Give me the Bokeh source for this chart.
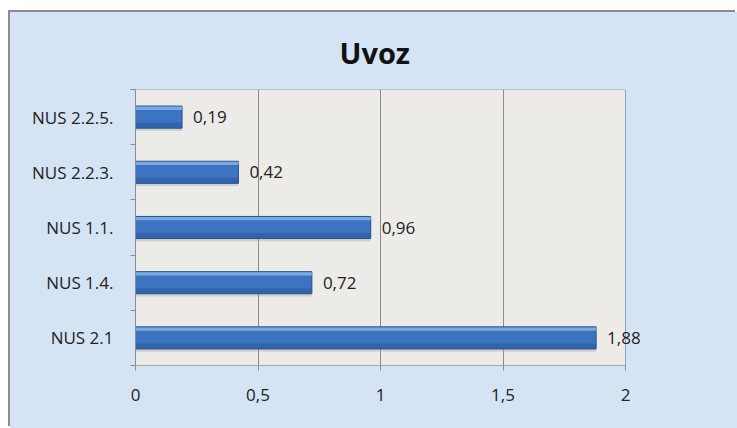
from bokeh.plotting import figure
from bokeh.models import FixedTicker, ColumnDataSource, Range1d, LabelSet
from bokeh.core.properties import value
from bokeh.embed import file_html
from bokeh.resources import INLINE

# ---- data (bottom to top, as drawn) ----
categories = ["NUS 2.1", "NUS 1.4.", "NUS 1.1.", "NUS 2.2.3.", "NUS 2.2.5."]
values = [1.88, 0.72, 0.96, 0.42, 0.19]
value_labels = ["1,88", "0,72", "0,96", "0,42", "0,19"]
x_ticks = [0, 0.5, 1, 1.5, 2]
x_tick_labels = ["0", "0,5", "1", "1,5", "2"]
title_text = "Uvoz"

FONT = "Open Sans"
BG = "#d5e4f4"
X_MAX = 2.0          # end of the value axis
X_VIEW = 2.302       # extra room on the right so the last data label is not clipped

pos = [i + 0.5 for i in range(len(categories))]
src = ColumnDataSource(dict(
    y=pos,
    y_shadow=[p - 0.05 for p in pos],
    y_hi=[p + 0.16 for p in pos],
    y_lo=[p - 0.15 for p in pos],
    x=values,
    lab=value_labels,
))

p = figure(width=727, height=416, output_backend="svg", toolbar_location=None,
           x_range=Range1d(0, X_VIEW), y_range=Range1d(0, len(categories)),
           min_border_left=125, min_border_right=38,
           min_border_top=76, min_border_bottom=63)
p.margin = (12, 0, 0, 10)
p.styles = {"box-shadow": "-2px -2px 0 0 #8c8c8c", "background-color": BG}

p.border_fill_alpha = 0
p.background_fill_alpha = 0
p.outline_line_color = None

# title
p.title.text = title_text
p.title.align = "left"
p.title.text_font = FONT
p.title.text_font_style = "bold"
p.title.text_font_size = "29px"
p.title.text_color = "#111111"
p.title.standoff = 36
p.title.offset = 204

# plot area (grey) with its blue-grey border
p.quad(left=0, right=X_MAX, bottom=0, top=len(categories),
       fill_color="#ecebe8", line_color="#8aa1c0", line_width=1, level="underlay")

# grid
p.xgrid.ticker = FixedTicker(ticks=[0.5, 1, 1.5])
p.xgrid.grid_line_color = "#8c8c8c"
p.xgrid.grid_line_width = 1
p.ygrid.grid_line_color = None

# shadow
p.hbar(y="y_shadow", left=0, right="x", height=0.4, source=src,
       fill_color="#9a9a9a", fill_alpha=0.35, line_color=None)
# main bar
p.hbar(y="y", left=0, right="x", height=0.4, source=src,
       fill_color="#3d74c2", line_color="#24508e", line_width=1)
# lower darker band
p.hbar(y="y_lo", left=0, right="x", height=0.1, source=src,
       fill_color="#2a5a9e", fill_alpha=0.6, line_color=None)
# upper highlight band
p.hbar(y="y_hi", left=0, right="x", height=0.06, source=src,
       fill_color="#8ab6ea", fill_alpha=0.8, line_color=None)

# value labels
labels = LabelSet(x="x", y="y", text="lab", source=src, x_offset=11,
                  text_font=value(FONT), text_font_size=value("17px"),
                  text_color=value("#222222"),
                  text_baseline="middle", text_align="left")
p.add_layout(labels)

# x axis
p.xaxis.bounds = (0, X_MAX)
p.xaxis.ticker = FixedTicker(ticks=x_ticks)
p.xaxis.major_label_overrides = {t: l for t, l in zip(x_ticks, x_tick_labels)}
p.xaxis.major_label_text_font = FONT
p.xaxis.major_label_text_font_size = "17px"
p.xaxis.major_label_text_color = "#222222"
p.xaxis.major_label_standoff = 18
p.xaxis.major_tick_out = 5
p.xaxis.major_tick_in = 0
p.xaxis.minor_tick_line_color = None
p.xaxis.axis_line_color = "#a8a8a8"
p.xaxis.major_tick_line_color = "#8c8c8c"

# y axis
p.yaxis.ticker = FixedTicker(ticks=pos, minor_ticks=list(range(len(categories) + 1)))
p.yaxis.major_label_overrides = {t: l for t, l in zip(pos, categories)}
p.yaxis.major_label_text_font = FONT
p.yaxis.major_label_text_font_size = "17px"
p.yaxis.major_label_text_color = "#222222"
p.yaxis.major_label_standoff = 17
p.yaxis.major_tick_out = 0
p.yaxis.major_tick_in = 0
p.yaxis.major_tick_line_color = None
p.yaxis.minor_tick_out = 5
p.yaxis.minor_tick_in = 0
p.yaxis.minor_tick_line_color = "#8c8c8c"
p.yaxis.axis_line_color = "#8c8c8c"

open("out.html", "w").write(file_html(p, INLINE))
